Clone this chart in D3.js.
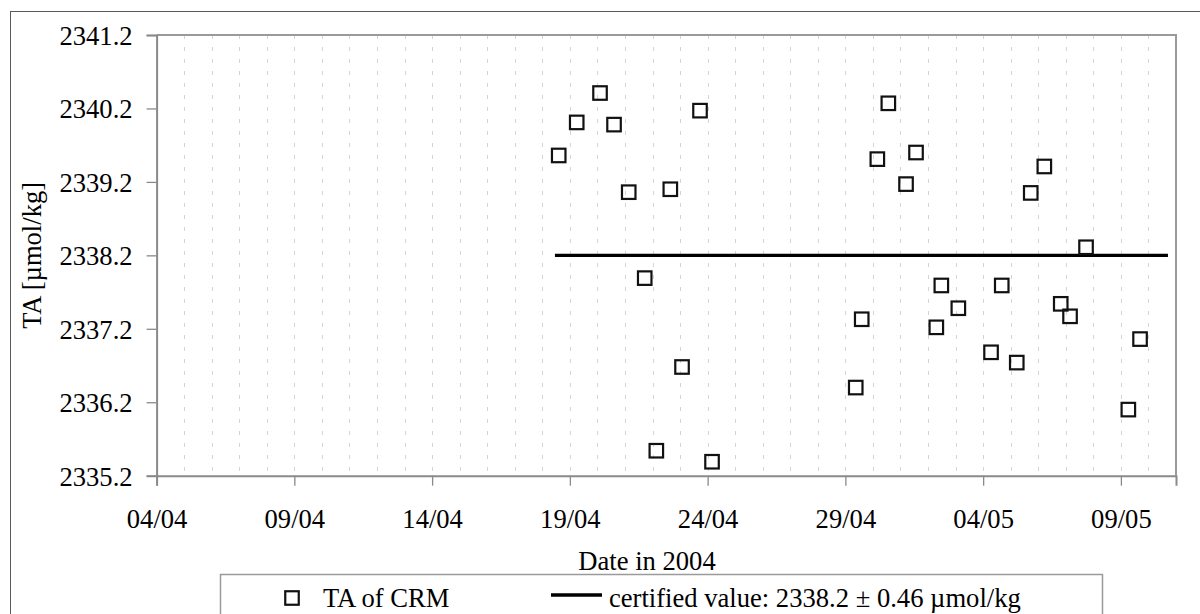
<!DOCTYPE html>
<html>
<head>
<meta charset="utf-8">
<script src="https://cdn.jsdelivr.net/npm/d3@7/dist/d3.min.js"></script>
<style>
  html, body { margin: 0; padding: 0; background: #fff; }
  svg { display: block; }
  text { font-family: "Liberation Serif", "Times New Roman", serif; fill: #000; }
</style>
</head>
<body>
<svg id="chart" width="1200" height="614"></svg>
<script>
// Alkalinity measurements of the certified reference material (CRM), spring 2004
const sampleTimes = [
  "2004-04-18 14:17", "2004-04-19 05:58", "2004-04-20 02:16", "2004-04-20 14:28",
  "2004-04-21 03:16", "2004-04-21 17:12", "2004-04-22 03:19", "2004-04-22 15:30",
  "2004-04-23 01:42", "2004-04-23 17:22", "2004-04-24 03:50",
  "2004-04-29 09:01", "2004-04-29 14:14", "2004-04-30 03:50", "2004-04-30 13:25",
  "2004-05-01 04:50", "2004-05-01 13:32", "2004-05-02 07:13", "2004-05-02 11:35",
  "2004-05-03 02:24", "2004-05-04 06:53", "2004-05-04 16:12", "2004-05-05 05:17",
  "2004-05-05 17:28", "2004-05-06 05:18", "2004-05-06 19:36", "2004-05-07 03:42",
  "2004-05-07 17:38", "2004-05-09 06:29", "2004-05-09 16:41"
];
const taValues = [
  2339.56, 2340.01, 2340.41, 2339.98,
  2339.06, 2337.89, 2335.54, 2339.10,
  2336.68, 2340.17, 2335.39,
  2336.40, 2337.33, 2339.51, 2340.27,
  2339.17, 2339.60, 2337.22, 2337.79,
  2337.48, 2336.88, 2337.79, 2336.74,
  2339.05, 2339.41, 2337.54, 2337.37,
  2338.31, 2336.10, 2337.06
];

// Certified value of the reference material and the period it is drawn over
const certifiedValue = 2338.2;
const certifiedUncertainty = 0.46;
const certifiedSpan = ["2004-04-18 11:00", "2004-05-10 17:00"];

// Axis settings
const xDomain = ["2004-04-04 00:00", "2004-05-11 00:00"];
const xTickDates = ["2004-04-04 00:00", "2004-04-09 00:00", "2004-04-14 00:00", "2004-04-19 00:00",
                    "2004-04-24 00:00", "2004-04-29 00:00", "2004-05-04 00:00", "2004-05-09 00:00"];
const yDomain = [2335.2, 2341.2];
const yTickValues = [2335.2, 2336.2, 2337.2, 2338.2, 2339.2, 2340.2, 2341.2];

const labels = {
  xTitle: "Date in 2004",
  yTitle: "TA [\u00b5mol/kg]",
  legendPoints: "TA of CRM",
  legendLine: "certified value: " + certifiedValue.toFixed(1) + " \u00b1 " + certifiedUncertainty + " \u00b5mol/kg"
};

const parse = d3.timeParse("%Y-%m-%d %H:%M");
const points = sampleTimes.map((t, i) => ({ date: parse(t), value: taValues[i] }));

const svg = d3.select("#chart");
const plot = { left: 156.6, right: 1176, top: 35, bottom: 475.7 };
const FONT = 26.6;

// Outer chart frame
svg.append("rect")
  .attr("x", 10.5).attr("y", 11.5)
  .attr("width", 1250).attr("height", 700)
  .attr("fill", "none").attr("stroke", "#5a5a5a").attr("stroke-width", 1);

const x = d3.scaleTime()
  .domain(xDomain.map(parse))
  .range([plot.left, plot.right]);
const y = d3.scaleLinear()
  .domain(yDomain)
  .range([plot.bottom, plot.top]);

// Daily dashed vertical gridlines
const days = d3.timeDay.range(d3.timeDay.offset(x.domain()[0], 1), x.domain()[1]);
svg.append("g")
  .selectAll("line")
  .data(days)
  .join("line")
  .attr("x1", d => Math.round(x(d)) + 0.5)
  .attr("x2", d => Math.round(x(d)) + 0.5)
  .attr("y1", plot.top)
  .attr("y2", plot.bottom)
  .attr("stroke", "#d4d4d4")
  .attr("stroke-width", 1)
  .attr("stroke-dasharray", "4,8");

// Plot area border (top and right)
svg.append("path")
  .attr("d", `M${plot.left},${plot.top}H${plot.right}V${plot.bottom}`)
  .attr("fill", "none").attr("stroke", "#9a9a9a").attr("stroke-width", 2);

// X axis
const xAxis = d3.axisBottom(x)
  .tickValues(xTickDates.map(parse))
  .tickFormat(d3.timeFormat("%d/%m"))
  .tickSize(10)
  .tickPadding(0);
const gx = svg.append("g").attr("transform", `translate(0,${plot.bottom})`).call(xAxis);
gx.select(".domain").attr("stroke", "#8a8a8a").attr("stroke-width", 2);
gx.selectAll(".tick line").attr("stroke", "#8a8a8a").attr("stroke-width", 1.3);
gx.selectAll(".tick text")
  .attr("font-family", null).attr("font-size", FONT)
  .attr("dy", null).attr("y", 52);

// Y axis
const yAxis = d3.axisLeft(y)
  .tickValues(yTickValues)
  .tickFormat(d3.format(".1f"))
  .tickSize(10)
  .tickPadding(14);
const gy = svg.append("g").attr("transform", `translate(${plot.left},0)`).call(yAxis);
gy.select(".domain").attr("stroke", "#8a8a8a").attr("stroke-width", 2);
gy.selectAll(".tick line").attr("stroke", "#8a8a8a").attr("stroke-width", 1.3);
gy.selectAll(".tick text")
  .attr("font-family", null).attr("font-size", FONT)
  .attr("dy", null).attr("y", 9.5);

// Axis titles
svg.append("text")
  .attr("x", 647).attr("y", 570)
  .attr("text-anchor", "middle")
  .attr("font-size", FONT)
  .text(labels.xTitle);

svg.append("text")
  .attr("transform", `translate(41,${(plot.top + plot.bottom) / 2}) rotate(-90)`)
  .attr("text-anchor", "middle")
  .attr("font-size", FONT)
  .text(labels.yTitle);

// Certified value line
svg.append("line")
  .attr("x1", x(parse(certifiedSpan[0])))
  .attr("x2", x(parse(certifiedSpan[1])))
  .attr("y1", y(certifiedValue))
  .attr("y2", y(certifiedValue))
  .attr("stroke", "#000")
  .attr("stroke-width", 3.2);

// Measurement markers: open squares
const S = 13.5;
svg.append("g")
  .selectAll("rect")
  .data(points)
  .join("rect")
  .attr("x", d => x(d.date) - S / 2)
  .attr("y", d => y(d.value) - S / 2)
  .attr("width", S)
  .attr("height", S)
  .attr("fill", "none")
  .attr("stroke", "#111")
  .attr("stroke-width", 2.2);

// Legend
const legend = svg.append("g");
legend.append("rect")
  .attr("x", 220.5).attr("y", 574.5)
  .attr("width", 882).attr("height", 80)
  .attr("fill", "#fff").attr("stroke", "#9a9a9a").attr("stroke-width", 1.5);
legend.append("rect")
  .attr("x", 292 - S / 2).attr("y", 598 - S / 2)
  .attr("width", S).attr("height", S)
  .attr("fill", "none").attr("stroke", "#111").attr("stroke-width", 2.2);
legend.append("text")
  .attr("x", 323).attr("y", 607)
  .attr("font-size", FONT)
  .text(labels.legendPoints);
legend.append("line")
  .attr("x1", 551).attr("x2", 602)
  .attr("y1", 595).attr("y2", 595)
  .attr("stroke", "#000").attr("stroke-width", 3.3);
legend.append("text")
  .attr("x", 609).attr("y", 607)
  .attr("font-size", FONT)
  .text(labels.legendLine);
</script>
</body>
</html>
